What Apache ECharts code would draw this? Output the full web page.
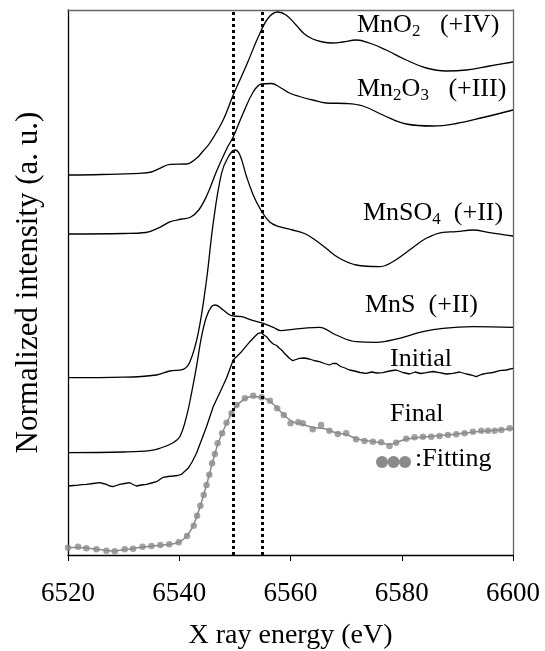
<!DOCTYPE html>
<html>
<head>
<meta charset="utf-8">
<script src="https://cdn.jsdelivr.net/npm/echarts@6/dist/echarts.min.js"></script>
<style>
  html, body { margin: 0; padding: 0; background: #fff; }
  #chart { width: 545px; height: 651px; }
</style>
</head>
<body>
<div id="chart"></div>
<script>
// energy (eV), normalized intensity (stacked offsets, a.u.)
var mnO2 = [[6520,380],[6526,380.5],[6532.9,381.7],[6535,383],[6536.5,386.7],[6538.4,390.7],[6541.3,391],[6543.1,396.7],[6544.3,404],[6545.5,412],[6547.9,435],[6549.7,460],[6552.1,490],[6554.2,518],[6556,537],[6557.7,543],[6559.2,540],[6561,530],[6562.5,521],[6564,516],[6565.8,513],[6567.5,512],[6569.4,513],[6571.8,515],[6574.2,512],[6577.2,505],[6580.8,495],[6584.4,487],[6588,484],[6591.6,485],[6595.8,489],[6600,493]];
var mn2O3 = [[6520,321],[6530,321.5],[6534,322.5],[6536.5,327.7],[6538.4,333.3],[6540.5,336],[6542,337.7],[6543.5,345],[6545,360],[6546.8,385],[6548.6,407],[6549.7,418],[6551.5,442],[6553.3,463],[6554.8,471],[6556.6,471.5],[6558,468],[6559.8,462],[6561.6,458.5],[6564,455],[6566.4,452],[6570,451.5],[6573,449],[6576.6,440],[6580.8,431],[6585.6,429],[6589.8,431.5],[6594.6,437.5],[6600,445]];
var mnSO4 = [[6520,177.3],[6530,177.8],[6535.9,180],[6538.3,184],[6540.7,185.7],[6541.9,193],[6543.4,221.7],[6544.9,275],[6546.1,331.7],[6547.6,381.7],[6548.8,398],[6550,405],[6550.9,400],[6552.1,378.3],[6553.3,360],[6554.5,346.7],[6556.2,333.3],[6558,328.3],[6560.4,325],[6562.5,321.5],[6564,316.7],[6566.4,306.7],[6568.8,296.7],[6571.8,290],[6576,288.3],[6578.4,293.3],[6581.4,305],[6584.4,316.7],[6587.4,322.7],[6589.8,323.3],[6592.8,325],[6595.8,322.3],[6600,319]];
var mnS = [[6520,102.3],[6530,103],[6534.7,104.3],[6536.5,106.7],[6538.9,112.3],[6540.1,118.3],[6541.3,138.3],[6542.2,161.7],[6543.1,188.3],[6544,218.3],[6544.9,238.3],[6545.8,248.3],[6546.5,250],[6547.9,245],[6549.4,239.3],[6551.2,238.3],[6553.3,234.3],[6555.1,231.7],[6556.9,227.7],[6558.3,224.3],[6560.4,225.7],[6563,227.2],[6565.2,227.7],[6568.2,220],[6571.8,213.3],[6575.4,212.7],[6579.6,216.7],[6583.8,223.3],[6587.4,226.7],[6592.8,228.3],[6600,227.7]];
var initial = [[6520,69],[6521,69.5],[6521.5,69.7],[6522.5,70.3],[6523.3,70.7],[6524.5,71.5],[6525.7,72.3],[6526.3,71.5],[6526.9,70.7],[6527.5,69],[6528.1,68.3],[6528.7,69.5],[6529.3,70.7],[6530.2,71.5],[6531.1,72.3],[6531.7,70.5],[6532.3,69],[6533.2,70],[6534.1,70.7],[6535,72],[6535.9,73.3],[6537.1,77.7],[6538,78.5],[6538.9,79],[6539.7,79.5],[6540.4,80.7],[6541.6,86.7],[6542.3,93],[6543.1,101.7],[6544,115],[6544.9,128.3],[6546.1,148.3],[6547.6,166],[6548.5,177],[6549.7,195],[6551.2,203.3],[6552.7,213.3],[6553.5,218],[6554.2,221.7],[6554.8,222.3],[6555.2,220],[6555.7,218.3],[6556.3,214],[6556.9,211],[6557.5,209.5],[6558,206.7],[6558.5,204.5],[6558.9,201.7],[6559.4,199],[6559.8,196.7],[6560.4,194.3],[6561,195.5],[6561.6,196.7],[6562.5,197],[6563.4,196],[6564.2,194.5],[6565.2,193.3],[6566.1,191.5],[6567,190],[6567.6,191.5],[6568.2,191.7],[6569,188.5],[6569.8,187],[6570.6,185],[6571.5,184],[6572.5,182.5],[6573.6,181.7],[6574.6,183],[6575.5,182],[6576.6,182.3],[6577.8,184],[6579,185],[6580.2,182.5],[6581.4,181],[6582.4,183],[6583.4,181.5],[6584.4,182.3],[6585.6,183.5],[6586.8,182.3],[6588,181],[6589.2,181.7],[6590.4,183],[6591.6,181],[6592.5,180],[6593.4,178.3],[6594.3,180.5],[6595.2,181.7],[6596.4,182.5],[6597.6,184.3],[6598.8,185],[6600,186.7]];
var finalLine = [[6520,7.5],[6522,7.5],[6524,6.5],[6526,5.2],[6528,4],[6530,5.2],[6532,6.8],[6534,8.3],[6536,9.5],[6538,10.5],[6539.8,12.5],[6541,17],[6542,24],[6543,36],[6544,53],[6545,72],[6546,93],[6547,112],[6548,125.5],[6549,137.5],[6550,147.5],[6551.5,155],[6553,158.5],[6554.5,158],[6556,155],[6557.5,147.5],[6559,139],[6560.5,133],[6562,131],[6564,127.5],[6566,126.5],[6568,122.5],[6570,120.5],[6572,116],[6574,114],[6576,112.5],[6577.8,110.5],[6579,112.5],[6581,116],[6584,118],[6587,119.5],[6590,121],[6593,123],[6596,124.3],[6600,126.5]];
var fitting = [[6520,7.3],[6521.8,8.3],[6523.3,6.7],[6525.1,5.7],[6526.9,4.3],[6528.4,3.7],[6530.2,5.7],[6531.7,6.3],[6533.4,8.3],[6535,9],[6536.6,10],[6538.2,10.7],[6539.9,12.7],[6541.4,19],[6542.6,29.3],[6543.2,39.3],[6543.8,49.3],[6544.4,60],[6544.9,70],[6545.4,80.3],[6545.9,91.7],[6546.4,101],[6546.9,111.7],[6547.7,121.7],[6548.5,132.3],[6549.4,141.7],[6550.3,150],[6551.8,156.7],[6553.3,159.3],[6554.8,157.7],[6556.3,154.3],[6557.6,146.7],[6558.8,140],[6560,131.7],[6561.4,132.7],[6562.2,131.7],[6564,125.7],[6565.5,130],[6567,124.3],[6568.5,121],[6570,121.7],[6571.8,115.7],[6573.3,114],[6574.8,113.3],[6576.3,112.7],[6577.8,109],[6579,112.3],[6580.8,116.3],[6582.3,117.7],[6583.8,118.3],[6585.3,118.3],[6586.8,119],[6588.3,120],[6589.8,120.7],[6591.3,121.7],[6592.8,123.3],[6594.3,124.3],[6595.5,124.3],[6596.7,124.3],[6597.9,125],[6599.4,126.7]];
var refEnergies = [6549.7, 6555];
var xTicks = [6520, 6600, 20];

var serif = '"Liberation Serif", "Times New Roman", serif';
var grey = '#8a8a8a';

var myChart = echarts.init(document.getElementById('chart'));

function blackLine(data, smooth) {
    return {
        type: 'line',
        data: data,
        showSymbol: false,
        smooth: smooth,
        lineStyle: { color: '#000', width: 1.3 },
        silent: true
    };
}

var rich = {
    a: { fontSize: 26, fontFamily: serif, color: '#000', lineHeight: 30 },
    s: { fontSize: 17, fontFamily: serif, color: '#000', lineHeight: 10, verticalAlign: 'bottom' }
};

function label(x, y, text) {
    return {
        type: 'text', left: x, top: y, z: 100,
        style: { text: text, rich: rich, fill: '#000' }
    };
}

var option = {
    animation: false,
    backgroundColor: '#fff',
    grid: { left: 68, right: 32, top: 10, bottom: 96, outerBoundsMode: 'none', containLabel: false },
    xAxis: [{
        type: 'value', min: xTicks[0], max: xTicks[1], interval: xTicks[2],
        position: 'bottom',
        name: 'X ray energy (eV)', nameLocation: 'middle', nameGap: 67,
        nameTextStyle: { fontSize: 28, fontFamily: serif, color: '#000' },
        axisLine: { lineStyle: { color: '#000', width: 1.3 } },
        axisTick: { inside: false, length: 6, lineStyle: { color: '#000' } },
        axisLabel: {
            fontSize: 27, fontFamily: serif, color: '#000', margin: 25,
            formatter: function (v) { return String(v); }
        },
        splitLine: { show: false }
    }, {
        type: 'value', min: xTicks[0], max: xTicks[1], position: 'top',
        axisLine: { onZero: false, lineStyle: { color: '#666', width: 1.3 } },
        axisTick: { show: false }, axisLabel: { show: false }, splitLine: { show: false }
    }],
    yAxis: [{
        type: 'value', min: 0, max: 545, position: 'left',
        name: 'Normalized intensity (a. u.)', nameLocation: 'middle', nameGap: 24,
        nameTextStyle: { fontSize: 31, fontFamily: serif, color: '#000' },
        axisLine: { show: true, lineStyle: { color: '#000', width: 1.3 } },
        axisTick: { show: false }, axisLabel: { show: false }, splitLine: { show: false }
    }, {
        type: 'value', min: 0, max: 545, position: 'right',
        axisLine: { show: true, onZero: false, lineStyle: { color: '#666', width: 1.3 } },
        axisTick: { show: false }, axisLabel: { show: false }, splitLine: { show: false }
    }],
    series: [
        Object.assign(blackLine(mnO2, 0.4), {
            markLine: {
                silent: true, symbol: 'none', label: { show: false },
                lineStyle: { color: '#000', width: 3, type: [3, 3] },
                data: refEnergies.map(function (e) { return { xAxis: e }; })
            }
        }),
        blackLine(mn2O3, 0.4),
        blackLine(mnSO4, 0.4),
        blackLine(mnS, 0.4),
        blackLine(initial, false),
        {
            type: 'line', data: finalLine, showSymbol: false, smooth: 0.4,
            lineStyle: { color: grey, width: 1.5 }, silent: true
        },
        {
            type: 'scatter', data: fitting, symbol: 'circle', symbolSize: 6.5,
            itemStyle: { color: grey }, silent: true
        }
    ],
    graphic: [
        label(357, 12, '{a|MnO}{s|2}{a|   (+IV)}'),
        label(357, 76, '{a|Mn}{s|2}{a|O}{s|3}{a|   (+III)}'),
        label(363, 200, '{a|MnSO}{s|4}{a|  (+II)}'),
        label(365, 292, '{a|MnS  (+II)}'),
        label(390, 346, '{a|Initial}'),
        label(390, 401, '{a|Final}'),
        label(415, 446, '{a|:Fitting}'),
        { type: 'circle', shape: { cx: 382, cy: 462, r: 6 }, style: { fill: grey }, z: 100 },
        { type: 'circle', shape: { cx: 393.5, cy: 462, r: 6 }, style: { fill: grey }, z: 100 },
        { type: 'circle', shape: { cx: 405, cy: 462, r: 6 }, style: { fill: grey }, z: 100 }
    ]
};

myChart.setOption(option);
window.addEventListener('resize', function () {
    myChart.resize();
});
</script>
</body>
</html>
